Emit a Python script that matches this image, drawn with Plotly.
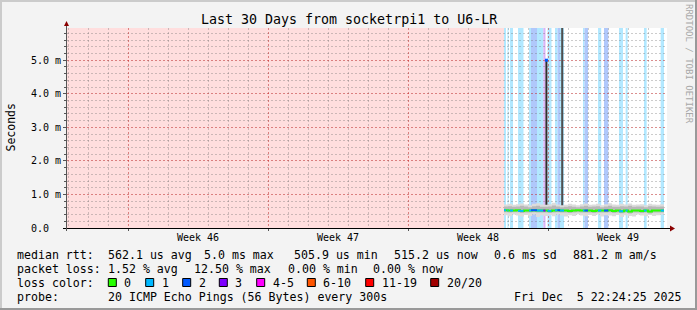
import plotly.graph_objects as go
import pandas as pd

# ---------------- data ----------------
T0 = "2025-11-05 22:24:25"
T1 = "2025-12-05 22:24:25"
week_starts = ["2025-11-09", "2025-11-16", "2025-11-23", "2025-11-30"]
week_label_pos = ["2025-11-12 12:00", "2025-11-19 12:00", "2025-11-26 12:00", "2025-12-03 12:00"]
week_labels = ["Week 46", "Week 47", "Week 48", "Week 49"]

y_tickvals = [0, 1, 2, 3, 4, 5]
y_ticktext = ["0.0\u00a0\u00a0", "1.0 m", "2.0 m", "3.0 m", "4.0 m", "5.0 m"]
y_max = 5.96  # ms

data_start = "2025-11-27 18:48"
sample_step = "288min"
# median rtt (ms) per sample
median = [0.53, 0.52, 0.52, 0.53, 0.51, 0.52, 0.52, 0.53, 0.52, 0.52, 0.52, 0.51, 0.52, 0.53,
          0.52, 0.52, 0.51, 0.52, 0.53, 0.52, 0.52, 0.52, 0.51, 0.52, 0.52, 0.52, 0.53, 0.51,
          0.52, 0.50, 0.52, 0.49, 0.52, 0.52, 0.51, 0.52, 0.49, 0.52, 0.52, 0.52, 0.52]
smoke_hi = [0.70, 0.72, 0.69, 0.71, 0.73, 0.70, 0.68, 0.72, 0.74, 0.70, 0.69, 0.71, 0.75, 0.70,
            0.68, 0.69, 0.72, 0.70, 0.68, 0.71, 0.73, 0.69, 0.70, 0.72, 0.68, 0.71, 0.74, 0.70,
            0.69, 0.72, 0.70, 0.73, 0.69, 0.70, 0.71, 0.68, 0.72, 0.70, 0.69, 0.71, 0.70]
smoke_inner_hi = [0.64, 0.65, 0.63, 0.64, 0.66, 0.64, 0.62, 0.65, 0.66, 0.63, 0.63, 0.64, 0.67, 0.64,
                  0.62, 0.63, 0.65, 0.63, 0.62, 0.64, 0.66, 0.63, 0.64, 0.65, 0.62, 0.64, 0.66, 0.63,
                  0.63, 0.65, 0.64, 0.66, 0.63, 0.64, 0.64, 0.62, 0.65, 0.64, 0.63, 0.64, 0.64]
smoke_inner_lo = [0.47, 0.46, 0.47, 0.47, 0.45, 0.46, 0.46, 0.47, 0.46, 0.46, 0.46, 0.45, 0.46, 0.47,
                  0.46, 0.46, 0.45, 0.46, 0.47, 0.46, 0.46, 0.46, 0.45, 0.46, 0.46, 0.46, 0.47, 0.45,
                  0.46, 0.44, 0.46, 0.43, 0.46, 0.46, 0.45, 0.46, 0.43, 0.46, 0.46, 0.46, 0.46]
smoke_lo = [0.38, 0.35, 0.40, 0.37, 0.34, 0.39, 0.36, 0.40, 0.33, 0.38, 0.36, 0.39, 0.35, 0.40,
            0.37, 0.34, 0.38, 0.36, 0.41, 0.37, 0.35, 0.39, 0.36, 0.40, 0.34, 0.38, 0.37, 0.35,
            0.39, 0.33, 0.38, 0.36, 0.34, 0.40, 0.37, 0.35, 0.39, 0.36, 0.38, 0.40, 0.37]

# loss periods (start, end, loss level index)
loss_start = ["2025-11-27 18:48", "2025-11-27 23:00", "2025-11-28 02:00", "2025-11-28 11:36",
              "2025-11-29 00:48", "2025-11-29 03:12", "2025-11-29 10:24", "2025-11-29 18:00",
              "2025-11-29 23:00", "2025-11-30 08:00", "2025-11-30 11:00", "2025-11-30 14:00",
              "2025-12-01 17:36", "2025-12-01 19:24", "2025-12-02 11:36", "2025-12-02 18:48",
              "2025-12-03 12:48", "2025-12-03 20:48", "2025-12-04 18:48", "2025-12-05 14:48"]
loss_end = ["2025-11-27 21:12", "2025-11-28 00:12", "2025-11-28 05:36", "2025-11-28 18:12",
            "2025-11-29 03:12", "2025-11-29 10:24", "2025-11-29 18:00", "2025-11-29 20:36",
            "2025-11-30 03:48", "2025-11-30 11:00", "2025-11-30 14:00", "2025-11-30 18:48",
            "2025-12-01 19:24", "2025-12-01 23:36", "2025-12-02 15:30", "2025-12-03 00:00",
            "2025-12-03 17:36", "2025-12-03 23:12", "2025-12-04 22:00", "2025-12-05 18:48"]
loss_level = [1, 1, 1, 1, 1, 2, 1, 3, 1, 1, 2, 1, 1, 2, 1, 2, 1, 1, 1, 1]

# latency spikes
spike_time = ["2025-11-29 21:42", "2025-11-30 16:38"]
spike_base = [0.52, 0.52]
spike_top = [5.0, 6.4]
spike_color = ["#2e2e2e", "#4f4f4f"]
spike_median = [5.0]

loss_names = ["0", "1", "2", "3", "4-5", "6-10", "11-19", "20/20"]
loss_colors = ["#26ff00", "#00b8ff", "#0059ff", "#7e00ff", "#ff00ff", "#ff5500", "#ff0000", "#a10000"]
loss_bg = {1: "#b2e8ff", 2: "#b0c8fb", 3: "#d9b4f7"}

title = "Last 30 Days from socketrpi1 to U6-LR"
legend_rows = [
    (254.5, [(16, "median rtt:"), (107.3, "562.1 us avg"), (202.7, "5.0 ms max"),
             (293.3, "505.9 us min"), (393.3, "515.2 us now"), (493.3, "0.6 ms sd"),
             (572.3, "881.2 m am/s")]),
    (268.5, [(16, "packet loss:"), (107.3, "1.52 % avg"), (193.3, "12.50 % max"),
             (287.3, "0.00 % min"), (372.3, "0.00 % now")]),
    (296.5, [(16, "probe:"), (107.3, "20 ICMP Echo Pings (56 Bytes) every 300s"),
             (513.3, "Fri Dec  5 22:24:25 2025")]),
]
loss_box_x = [108.3, 145.7, 182.7, 219.3, 256.7, 307.3, 365.7, 430.7]

# ---------------- geometry helpers (layout only) ----------------
W, H = 697, 310
L, R, T, B = 67, 30, 28, 82
PW, PH = W - L - R, H - T - B


def px(x):
    return (x - L) / PW


def py(y):
    return (H - B - y) / PH


MONO = "DejaVu Sans Mono"

times = pd.date_range(data_start, periods=len(median), freq=sample_step)

fig = go.Figure()

# smoke
fig.add_trace(go.Scatter(x=times, y=smoke_lo, mode="lines", line=dict(width=0, shape="hv"),
                         hoverinfo="skip"))
fig.add_trace(go.Scatter(x=times, y=smoke_hi, mode="lines", line=dict(width=0, shape="hv"),
                         fill="tonexty", fillcolor="#dcdcdc", hoverinfo="skip"))
fig.add_trace(go.Scatter(x=times, y=smoke_inner_lo, mode="lines", line=dict(width=0, shape="hv"),
                         hoverinfo="skip"))
fig.add_trace(go.Scatter(x=times, y=smoke_inner_hi, mode="lines", line=dict(width=0, shape="hv"),
                         fill="tonexty", fillcolor="#b8b8b8", hoverinfo="skip"))

# spikes
fig.add_trace(go.Bar(x=pd.to_datetime(spike_time), base=spike_base,
                     y=[t - b for t, b in zip(spike_top, spike_base)],
                     width=[2.4 * 3600 * 1000] * len(spike_time),
                     marker=dict(color=spike_color, line=dict(width=0)), hoverinfo="skip"))

# median line (loss 0 colour)
fig.add_trace(go.Scatter(x=times, y=median, mode="lines",
                         line=dict(color=loss_colors[0], width=2, shape="hv"), hoverinfo="skip"))

# median coloured by loss during loss periods
for lvl in sorted(set(loss_level)):
    xs, ys = [], []
    for s, e, l in zip(loss_start, loss_end, loss_level):
        if l != lvl:
            continue
        ts = pd.Timestamp(s)
        idx = int(round((ts - times[0]) / pd.Timedelta(sample_step)))
        idx = max(0, min(len(median) - 1, idx))
        xs += [pd.Timestamp(s), pd.Timestamp(e), None]
        ys += [median[idx], median[idx], None]
    fig.add_trace(go.Scatter(x=xs, y=ys, mode="lines",
                             line=dict(color=loss_colors[lvl], width=2), hoverinfo="skip"))

fig.add_trace(go.Scatter(x=pd.to_datetime(spike_time[:1]), y=spike_median, mode="markers",
                         marker=dict(symbol="square", size=3, color=loss_colors[2],
                                     line=dict(width=0)), hoverinfo="skip"))

shapes = []
# unknown-data background
shapes.append(dict(type="rect", xref="x", yref="paper", x0=T0, x1=data_start, y0=0, y1=1,
                   fillcolor="#ffdede", line=dict(width=0), layer="below"))
# loss background
for s, e, l in zip(loss_start, loss_end, loss_level):
    shapes.append(dict(type="rect", xref="x", yref="paper", x0=s, x1=e, y0=0, y1=1,
                       fillcolor=loss_bg[l], line=dict(width=0), layer="below"))

# axis lines and arrows
shapes.append(dict(type="line", xref="paper", yref="paper", x0=px(63), x1=px(670),
                   y0=py(228.5), y1=py(228.5), line=dict(color="#000000", width=1)))
shapes.append(dict(type="line", xref="paper", yref="paper", x0=px(66.5), x1=px(66.5),
                   y0=py(231), y1=py(25), line=dict(color="#555555", width=1)))
shapes.append(dict(type="path", xref="paper", yref="paper",
                   path=f"M {px(64)} {py(26)} L {px(69)} {py(26)} L {px(66.5)} {py(21)} Z",
                   fillcolor="#8b0000", line=dict(width=0)))
shapes.append(dict(type="path", xref="paper", yref="paper",
                   path=f"M {px(670)} {py(225.5)} L {px(670)} {py(231.5)} L {px(675)} {py(228.5)} Z",
                   fillcolor="#8b0000", line=dict(width=0)))

# frame
shapes.append(dict(type="rect", xref="paper", yref="paper", x0=px(0), x1=px(W), y0=py(0), y1=py(2),
                   fillcolor="#cbcbcb", line=dict(width=0)))
shapes.append(dict(type="rect", xref="paper", yref="paper", x0=px(0), x1=px(2), y0=py(0), y1=py(H),
                   fillcolor="#cbcbcb", line=dict(width=0)))
shapes.append(dict(type="rect", xref="paper", yref="paper", x0=px(0), x1=px(W), y0=py(H - 2), y1=py(H),
                   fillcolor="#999999", line=dict(width=0)))
shapes.append(dict(type="rect", xref="paper", yref="paper", x0=px(W - 2), x1=px(W), y0=py(0), y1=py(H),
                   fillcolor="#999999", line=dict(width=0)))

# loss colour boxes
for bx, c in zip(loss_box_x, loss_colors):
    shapes.append(dict(type="rect", xref="paper", yref="paper", x0=px(bx), x1=px(bx + 8),
                       y0=py(278.5), y1=py(286.5), fillcolor=c, line=dict(color="#000000", width=1)))

annotations = []


def nb(s):
    return s.replace(" ", "\u00a0")


annotations.append(dict(text=nb(title), x=px(348.5), y=py(19.5), xref="paper", yref="paper",
                        showarrow=False, xanchor="center", yanchor="middle",
                        font=dict(family=MONO, size=13.3, color="#000000")))
annotations.append(dict(text="Seconds", x=px(10.5), y=py(128), xref="paper", yref="paper",
                        showarrow=False, textangle=-90, xanchor="center", yanchor="middle",
                        font=dict(family=MONO, size=11.5, color="#000000")))
annotations.append(dict(text=nb("RRDTOOL / TOBI OETIKER"), x=px(689), y=py(64), xref="paper",
                        yref="paper", showarrow=False, textangle=90, xanchor="center",
                        yanchor="middle", font=dict(family=MONO, size=9, color="#a8a8a8")))
for pos, lab in zip(week_label_pos, week_labels):
    annotations.append(dict(text=nb(lab), x=pos, y=py(237.5), xref="x", yref="paper",
                            showarrow=False, xanchor="center", yanchor="middle",
                            font=dict(family=MONO, size=10, color="#000000")))
for yy, items in legend_rows:
    for xx, txt in items:
        annotations.append(dict(text=nb(txt), x=px(xx - 1), y=py(yy), xref="paper", yref="paper",
                                showarrow=False, xanchor="left", yanchor="middle",
                                font=dict(family=MONO, size=11.6, color="#000000")))
annotations.append(dict(text=nb("loss color:"), x=px(15), y=py(282.5), xref="paper", yref="paper",
                        showarrow=False, xanchor="left", yanchor="middle",
                        font=dict(family=MONO, size=11.6, color="#000000")))
for bx, name in zip(loss_box_x, loss_names):
    annotations.append(dict(text=nb(name), x=px(bx + 14), y=py(282.5), xref="paper", yref="paper",
                            showarrow=False, xanchor="left", yanchor="middle",
                            font=dict(family=MONO, size=11.6, color="#000000")))

grid_minor = "rgba(110,110,110,0.35)"
grid_major = "rgba(255,0,0,0.30)"

fig.update_layout(
    width=W, height=H, margin=dict(l=L, r=R, t=T, b=B, pad=0),
    paper_bgcolor="#f3f3f3", plot_bgcolor="#ffffff", showlegend=False,
    barmode="overlay", shapes=shapes, annotations=annotations,
    xaxis=dict(type="date", range=[T0, T1], tickmode="array", tickvals=week_starts,
               ticktext=[""] * len(week_starts), ticks="outside", ticklen=2, tickcolor="#555555",
               showgrid=True, gridcolor=grid_major, griddash="2px,2px", gridwidth=1,
               minor=dict(dtick=86400000, tick0="2025-11-06", showgrid=True, gridcolor=grid_minor,
                          griddash="2px,2px", ticks=""),
               showline=False, zeroline=False, fixedrange=True),
    yaxis=dict(range=[0, y_max], tickmode="array", tickvals=y_tickvals, ticktext=y_ticktext,
               ticks="outside", ticklen=3, tickcolor="#555555",
               tickfont=dict(family=MONO, size=10, color="#000000"),
               showgrid=True, gridcolor=grid_major, griddash="2px,2px", gridwidth=1,
               minor=dict(dtick=0.2, tick0=0, showgrid=True, gridcolor=grid_minor,
                          griddash="2px,2px", ticks="outside", ticklen=2, tickcolor="#555555"),
               showline=False, zeroline=False, fixedrange=True),
)

fig.write_html("out.html")
